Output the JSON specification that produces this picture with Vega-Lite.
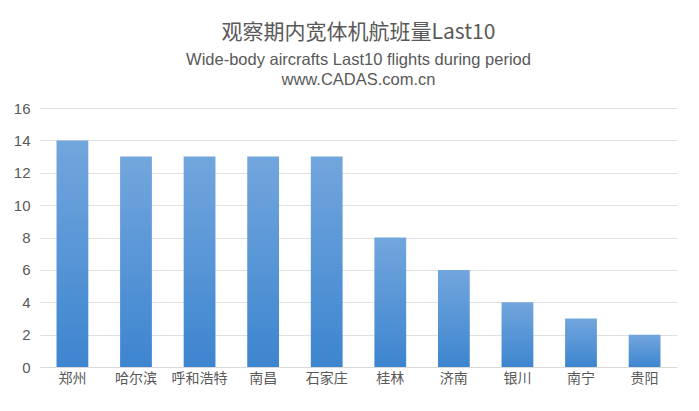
{
  "$schema": "https://vega.github.io/schema/vega-lite/v6.json",
  "width": 699,
  "height": 411,
  "autosize": {"type": "fit", "contains": "padding"},
  "padding": {"left": 13, "right": 22, "top": 21, "bottom": 26},
  "background": "white",
  "title": {
    "text": "观察期内宽体机航班量Last10",
    "subtitle": ["Wide-body aircrafts Last10 flights during period", "www.CADAS.com.cn"],
    "font": "Noto Sans CJK SC",
    "fontSize": 21,
    "fontWeight": "normal",
    "color": "#595959",
    "subtitleFont": "Liberation Sans",
    "subtitleFontSize": 16.5,
    "subtitleColor": "#595959",
    "subtitlePadding": 9,
    "subtitleLineHeight": 20,
    "anchor": "middle",
    "offset": 13
  },
  "data": {
    "values": [
      {"city": "郑州", "flights": 14},
      {"city": "哈尔滨", "flights": 13},
      {"city": "呼和浩特", "flights": 13},
      {"city": "南昌", "flights": 13},
      {"city": "石家庄", "flights": 13},
      {"city": "桂林", "flights": 8},
      {"city": "济南", "flights": 6},
      {"city": "银川", "flights": 4},
      {"city": "南宁", "flights": 3},
      {"city": "贵阳", "flights": 2}
    ]
  },
  "mark": {
    "type": "bar",
    "color": {
      "gradient": "linear",
      "x1": 0, "y1": 0, "x2": 0, "y2": 1,
      "stops": [
        {"offset": 0, "color": "#72a6dd"},
        {"offset": 1, "color": "#3d85cf"}
      ]
    }
  },
  "encoding": {
    "x": {
      "field": "city",
      "type": "nominal",
      "sort": null,
      "scale": {"paddingInner": 0.5, "paddingOuter": 0.26},
      "axis": {
        "title": null,
        "labelAngle": 0,
        "labelFont": "Noto Sans CJK SC",
        "labelFontSize": 14,
        "labelColor": "#595959",
        "ticks": false,
        "domainColor": "#d9d9d9",
        "labelPadding": 4
      }
    },
    "y": {
      "field": "flights",
      "type": "quantitative",
      "scale": {"domain": [0, 16], "nice": false},
      "axis": {
        "title": null,
        "values": [0, 2, 4, 6, 8, 10, 12, 14, 16],
        "labelFont": "Liberation Sans",
        "labelFontSize": 15,
        "labelColor": "#595959",
        "ticks": false,
        "domain": false,
        "gridColor": "#e0e0e0",
        "labelPadding": 10
      }
    }
  },
  "config": {
    "view": {"stroke": null}
  }
}
